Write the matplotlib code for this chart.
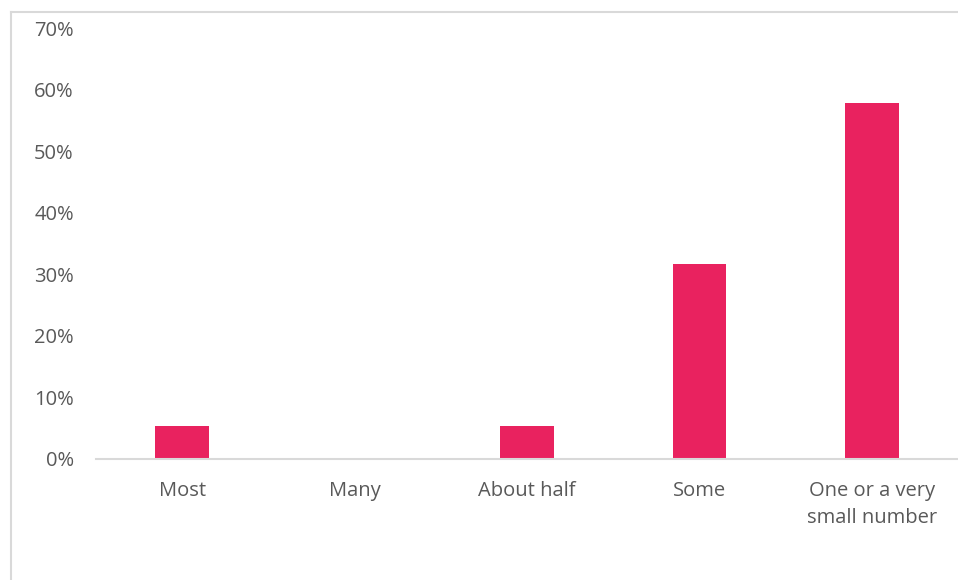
import numpy as np
import matplotlib.pyplot as plt
from matplotlib.lines import Line2D
from matplotlib.ticker import PercentFormatter

# Share of respondents per answer
categories = ["Most", "Many", "About half", "Some", "One or a very\nsmall number"]
shares = [5.3, 0.0, 5.3, 31.6, 57.9]

bar_color = "#E9225F"
text_color = "#595959"
grey_line = "#D9D9D9"

plt.rcParams['font.family'] = ['Open Sans', 'DejaVu Sans']

fig = plt.figure(figsize=(9.58, 5.80), dpi=100)
ax = fig.add_axes([96 / 958, 1 - 459 / 580, 1 - 96 / 958, (459 - 28) / 580])

x = np.arange(len(categories))
ax.bar(x, shares, width=0.31, color=bar_color)

ax.set_xlim(-0.5, len(categories) - 0.5)
ax.set_ylim(0, 70)
ax.set_yticks(np.arange(0, 71, 10))
ax.yaxis.set_major_formatter(PercentFormatter(decimals=0))
ax.set_xticks(x)
ax.set_xticklabels(categories, linespacing=1.45)

ax.tick_params(axis='both', length=0, labelsize=14.5, colors=text_color)
ax.tick_params(axis='y', pad=16)
ax.tick_params(axis='x', pad=16)

for side in ['top', 'right', 'left']:
    ax.spines[side].set_visible(False)
ax.spines['bottom'].set_color(grey_line)
ax.spines['bottom'].set_linewidth(1.5)

# chart frame, only left and top edges visible
fig.add_artist(Line2D([10.5 / 958, 10.5 / 958], [0, 1 - 12 / 580],
                      transform=fig.transFigure, color=grey_line, lw=1.5))
fig.add_artist(Line2D([10.5 / 958, 1], [1 - 12 / 580, 1 - 12 / 580],
                      transform=fig.transFigure, color=grey_line, lw=1.5))

plt.savefig('out.png', dpi=100)
